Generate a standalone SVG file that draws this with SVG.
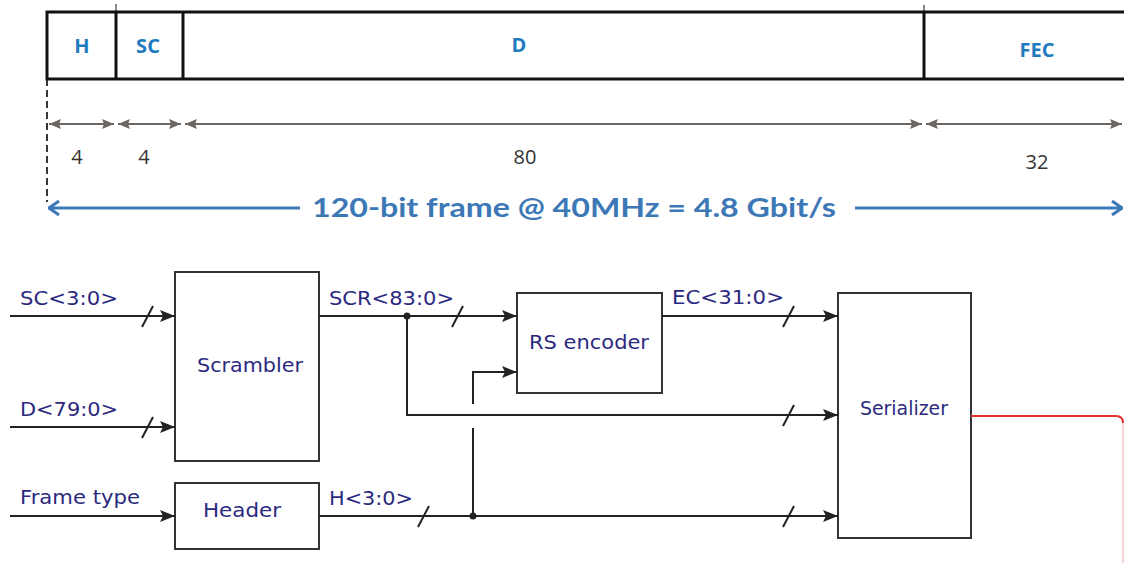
<svg xmlns="http://www.w3.org/2000/svg" width="1124" height="563" viewBox="0 0 1124 563">
<style>
.frame{fill:none;stroke:#111;stroke-width:3}
.fl{font-family:"Open Sans","Liberation Sans",sans-serif;font-weight:bold;font-size:20px;fill:#1f7bc0;text-anchor:middle}
.num{font-family:"Open Sans","Liberation Sans",sans-serif;font-size:20px;fill:#333;text-anchor:middle}
.dim{stroke:#6e6661;stroke-width:2;fill:none}
.blue{stroke:#3d78b6;stroke-width:3;fill:none}
.title{font-family:Lato,"Open Sans","Liberation Sans",sans-serif;font-weight:bold;font-size:27px;fill:#3d78b6}
.box{fill:#fff;stroke:#333;stroke-width:2}
.lbl{font-family:"DejaVu Sans","Liberation Sans",sans-serif;font-size:20px;fill:#2b2a80}
.w{stroke:#222;stroke-width:2;fill:none}
.sl{stroke:#222;stroke-width:2}
</style>
<defs>
<marker id="dh" viewBox="0 0 12 10" refX="12" refY="5" markerWidth="12" markerHeight="10" markerUnits="userSpaceOnUse" orient="auto-start-reverse">
<path d="M0,0 L12,5 L0,10 L2,5 Z" fill="#6e6661"/>
</marker>
<marker id="bh" viewBox="0 0 12 16" refX="11" refY="8" markerWidth="12" markerHeight="16" markerUnits="userSpaceOnUse" orient="auto-start-reverse">
<path d="M1,1 L11,8 L1,15" fill="none" stroke="#3d78b6" stroke-width="3"/>
</marker>
<marker id="ah" viewBox="0 0 15 12" refX="15" refY="6" markerWidth="15" markerHeight="12" markerUnits="userSpaceOnUse" orient="auto">
<path d="M0,0 L15,6 L0,12 L3,6 Z" fill="#222"/>
</marker>
</defs>

<g id="frame">
<path class="frame" d="M1126,12 H47 V79 H1126"/>
<line class="frame" x1="116" y1="12" x2="116" y2="79"/>
<line class="frame" x1="183" y1="12" x2="183" y2="79"/>
<line class="frame" x1="924" y1="12" x2="924" y2="79"/>
<line x1="116" y1="4" x2="116" y2="11" stroke="#111" stroke-width="1"/>
<line x1="924" y1="5" x2="924" y2="11" stroke="#111" stroke-width="1"/>
<text class="fl" x="82" y="53">H</text>
<text class="fl" x="148" y="53">SC</text>
<text class="fl" x="519" y="52">D</text>
<text class="fl" x="1037" y="57">FEC</text>
</g>

<g id="dimensions">
<line x1="47" y1="79" x2="47" y2="202" stroke="#222" stroke-width="1.8" stroke-dasharray="7,4"/>
<line class="dim" x1="49" y1="124" x2="114" y2="124" marker-start="url(#dh)" marker-end="url(#dh)"/>
<line class="dim" x1="118" y1="124" x2="181" y2="124" marker-start="url(#dh)" marker-end="url(#dh)"/>
<line class="dim" x1="185" y1="124" x2="922" y2="124" marker-start="url(#dh)" marker-end="url(#dh)"/>
<line class="dim" x1="926" y1="124" x2="1122" y2="124" marker-start="url(#dh)" marker-end="url(#dh)"/>
<text class="num" x="77" y="164">4</text>
<text class="num" x="144" y="164">4</text>
<text class="num" x="525" y="164">80</text>
<text class="num" x="1037" y="169">32</text>
<line class="blue" x1="49" y1="208" x2="300" y2="208" marker-start="url(#bh)"/>
<line class="blue" x1="855" y1="208" x2="1122" y2="208" marker-end="url(#bh)"/>
<text class="title" x="312" y="217" textLength="524" lengthAdjust="spacingAndGlyphs">120-bit frame @ 40MHz = 4.8 Gbit/s</text>
</g>

<g id="scrambler">
<rect class="box" x="175" y="272" width="144" height="189"/>
<text class="lbl" x="197" y="372" textLength="106" lengthAdjust="spacingAndGlyphs">Scrambler</text>
</g>
<g id="header">
<rect class="box" x="175" y="483" width="144" height="66"/>
<text class="lbl" x="203" y="517" textLength="78" lengthAdjust="spacingAndGlyphs">Header</text>
</g>
<g id="rs-encoder">
<rect class="box" x="517" y="293" width="145" height="100"/>
<text class="lbl" x="529" y="349" textLength="120" lengthAdjust="spacingAndGlyphs">RS encoder</text>
</g>
<g id="serializer">
<rect class="box" x="838" y="293" width="133" height="245"/>
<text class="lbl" x="860" y="415" textLength="88" lengthAdjust="spacingAndGlyphs">Serializer</text>
</g>

<g id="connectors">
<line class="w" x1="10" y1="316" x2="175" y2="316" marker-end="url(#ah)"/>
<line class="w" x1="10" y1="427" x2="175" y2="427" marker-end="url(#ah)"/>
<line class="w" x1="10" y1="516" x2="175" y2="516" marker-end="url(#ah)"/>
<line class="w" x1="319" y1="316" x2="517" y2="316" marker-end="url(#ah)"/>
<path class="w" d="M407,316 V415 H838" marker-end="url(#ah)"/>
<line class="w" x1="662" y1="316" x2="838" y2="316" marker-end="url(#ah)"/>
<line class="w" x1="319" y1="516" x2="838" y2="516" marker-end="url(#ah)"/>
<path class="w" d="M473,404 V372 H517" marker-end="url(#ah)"/>
<line class="w" x1="473" y1="428" x2="473" y2="516"/>
<circle cx="407" cy="316" r="3.5" fill="#222"/>
<circle cx="473" cy="516" r="3.5" fill="#222"/>
<path d="M971,416 H1116 Q1123,416 1123,423" fill="none" stroke="#e8302c" stroke-width="2"/>
<line x1="1123" y1="423" x2="1123" y2="563" stroke="#f3c4c4" stroke-width="1.5"/>
<line class="sl" x1="142" y1="327" x2="153" y2="306"/>
<line class="sl" x1="142" y1="438" x2="153" y2="417"/>
<line class="sl" x1="452" y1="327" x2="463" y2="306"/>
<line class="sl" x1="418" y1="527" x2="429" y2="506"/>
<line class="sl" x1="783" y1="327" x2="794" y2="306"/>
<line class="sl" x1="783" y1="426" x2="794" y2="405"/>
<line class="sl" x1="783" y1="527" x2="794" y2="506"/>
<text class="lbl" x="20" y="305" textLength="98" lengthAdjust="spacingAndGlyphs">SC&lt;3:0&gt;</text>
<text class="lbl" x="20" y="416" textLength="98" lengthAdjust="spacingAndGlyphs">D&lt;79:0&gt;</text>
<text class="lbl" x="20" y="504" textLength="120" lengthAdjust="spacingAndGlyphs">Frame type</text>
<text class="lbl" x="329" y="305" textLength="125" lengthAdjust="spacingAndGlyphs">SCR&lt;83:0&gt;</text>
<text class="lbl" x="329" y="505" textLength="84" lengthAdjust="spacingAndGlyphs">H&lt;3:0&gt;</text>
<text class="lbl" x="672" y="304" textLength="112" lengthAdjust="spacingAndGlyphs">EC&lt;31:0&gt;</text>
</g>
</svg>
